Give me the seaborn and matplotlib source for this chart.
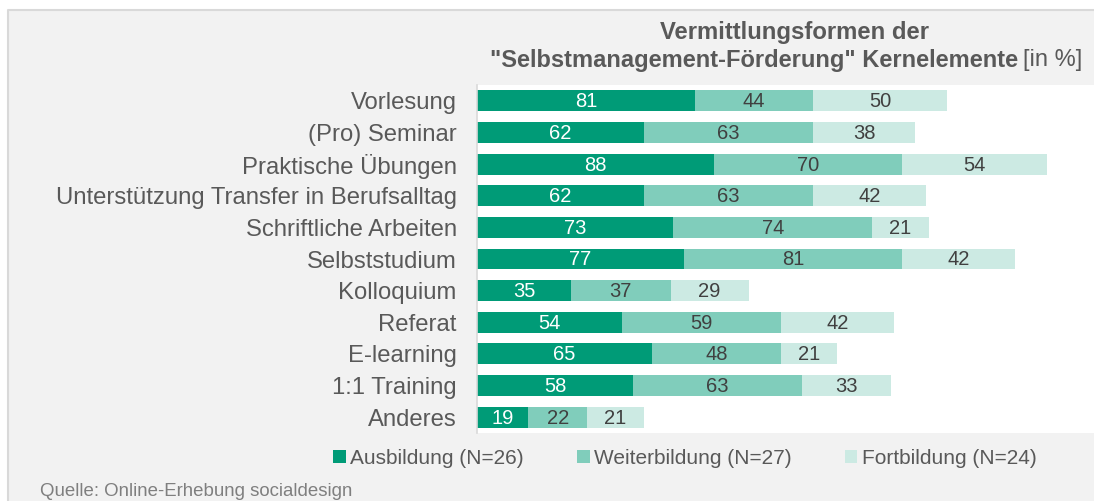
import matplotlib
matplotlib.use("Agg")
import matplotlib.pyplot as plt
from matplotlib.patches import Rectangle, Patch
from matplotlib.lines import Line2D
import seaborn as sns
import numpy as np

categories = ["Vorlesung", "(Pro) Seminar", "Praktische Übungen",
              "Unterstützung Transfer in Berufsalltag", "Schriftliche Arbeiten",
              "Selbststudium", "Kolloquium", "Referat", "E-learning",
              "1:1 Training", "Anderes"]
ausbildung = [81, 62, 88, 62, 73, 77, 35, 54, 65, 58, 19]
weiterbildung = [44, 63, 70, 63, 74, 81, 37, 59, 48, 63, 22]
fortbildung = [50, 38, 54, 42, 21, 42, 29, 42, 21, 33, 21]
series_names = ["Ausbildung (N=26)", "Weiterbildung (N=27)", "Fortbildung (N=24)"]
colors = ["#009b77", "#80cdbb", "#cceae3"]
text_colors = ["white", "#404040", "#404040"]

sns.set_style("white")
plt.rcParams["font.family"] = ["Liberation Sans", "DejaVu Sans"]

W, H = 1094, 501
fig = plt.figure(figsize=(W / 100, H / 100), dpi=100)
fig.patch.set_facecolor("white")
# gray panel with top/left border
fig.add_artist(Rectangle((8 / W, 0), 1 - 8 / W, (H - 10) / H,
                         transform=fig.transFigure, facecolor="#f2f2f2",
                         edgecolor="none", zorder=-10))
fig.add_artist(Line2D([8 / W, 8 / W, 1], [0, (H - 10) / H, (H - 10) / H],
                      transform=fig.transFigure, color="#d9d9d9", lw=1.5, zorder=-9))

ax = fig.add_axes([477 / W, (H - 433) / H, 1 - 477 / W, (433 - 85) / H])
ax.set_facecolor("white")
ax.set_zorder(1)

a = np.array(ausbildung)
w = np.array(weiterbildung)
f = np.array(fortbildung)
cum = [a + w + f, a + w, a]
for vals, col in zip(cum, colors[::-1]):
    sns.barplot(x=vals, y=categories, orient="h", color=col, width=0.66,
                saturation=1, ax=ax, linewidth=0)

starts = [np.zeros_like(a), a, a + w]
for vals, st, tc in zip([a, w, f], starts, text_colors):
    for i, (v, s) in enumerate(zip(vals, st)):
        ax.text(s + v / 2, i + 0.03, str(v), ha="center", va="center",
                fontsize=14.5, color=tc)

ax.set_xlim(0, 229.5)
ax.set_ylim(10.5, -0.5)
ax.set_xlabel("")
ax.set_ylabel("")
ax.set_xticks([])
ax.tick_params(axis="y", length=0, pad=14.5, labelsize=17.2, labelcolor="#595959")
for sp in ["top", "right", "bottom"]:
    ax.spines[sp].set_visible(False)
ax.spines["left"].set_color("#d9d9d9")
ax.spines["left"].set_linewidth(1.2)

# title
fig.text(795 / W, 1 - 32 / H, "Vermittlungsformen der", ha="center",
         va="center", fontsize=17.2, fontweight="bold", color="#595959")
t2 = fig.text(490 / W, 1 - 60 / H, "\"Selbstmanagement-Förderung\" Kernelemente",
              ha="left", va="center", fontsize=17, fontweight="bold", color="#595959")
fig.canvas.draw()
bb = t2.get_window_extent()
fig.text((bb.x1 + 5) / W, 1 - 60 / H, "[in %]", ha="left", va="center",
         fontsize=17, color="#595959")

handles = [Patch(facecolor=c, edgecolor="none") for c in colors]
fig.legend(handles, series_names, loc="center", bbox_to_anchor=(685 / W, 1 - 458 / H),
           ncol=3, frameon=False, fontsize=15, labelcolor="#595959",
           handlelength=0.6, handleheight=0.6, handletextpad=0.22, columnspacing=2.55)

fig.text(40 / W, 1 - 492 / H, "Quelle: Online-Erhebung socialdesign",
         ha="left", va="center", fontsize=13.4, color="#7f7f7f")

fig.savefig("out.png", dpi=100)
